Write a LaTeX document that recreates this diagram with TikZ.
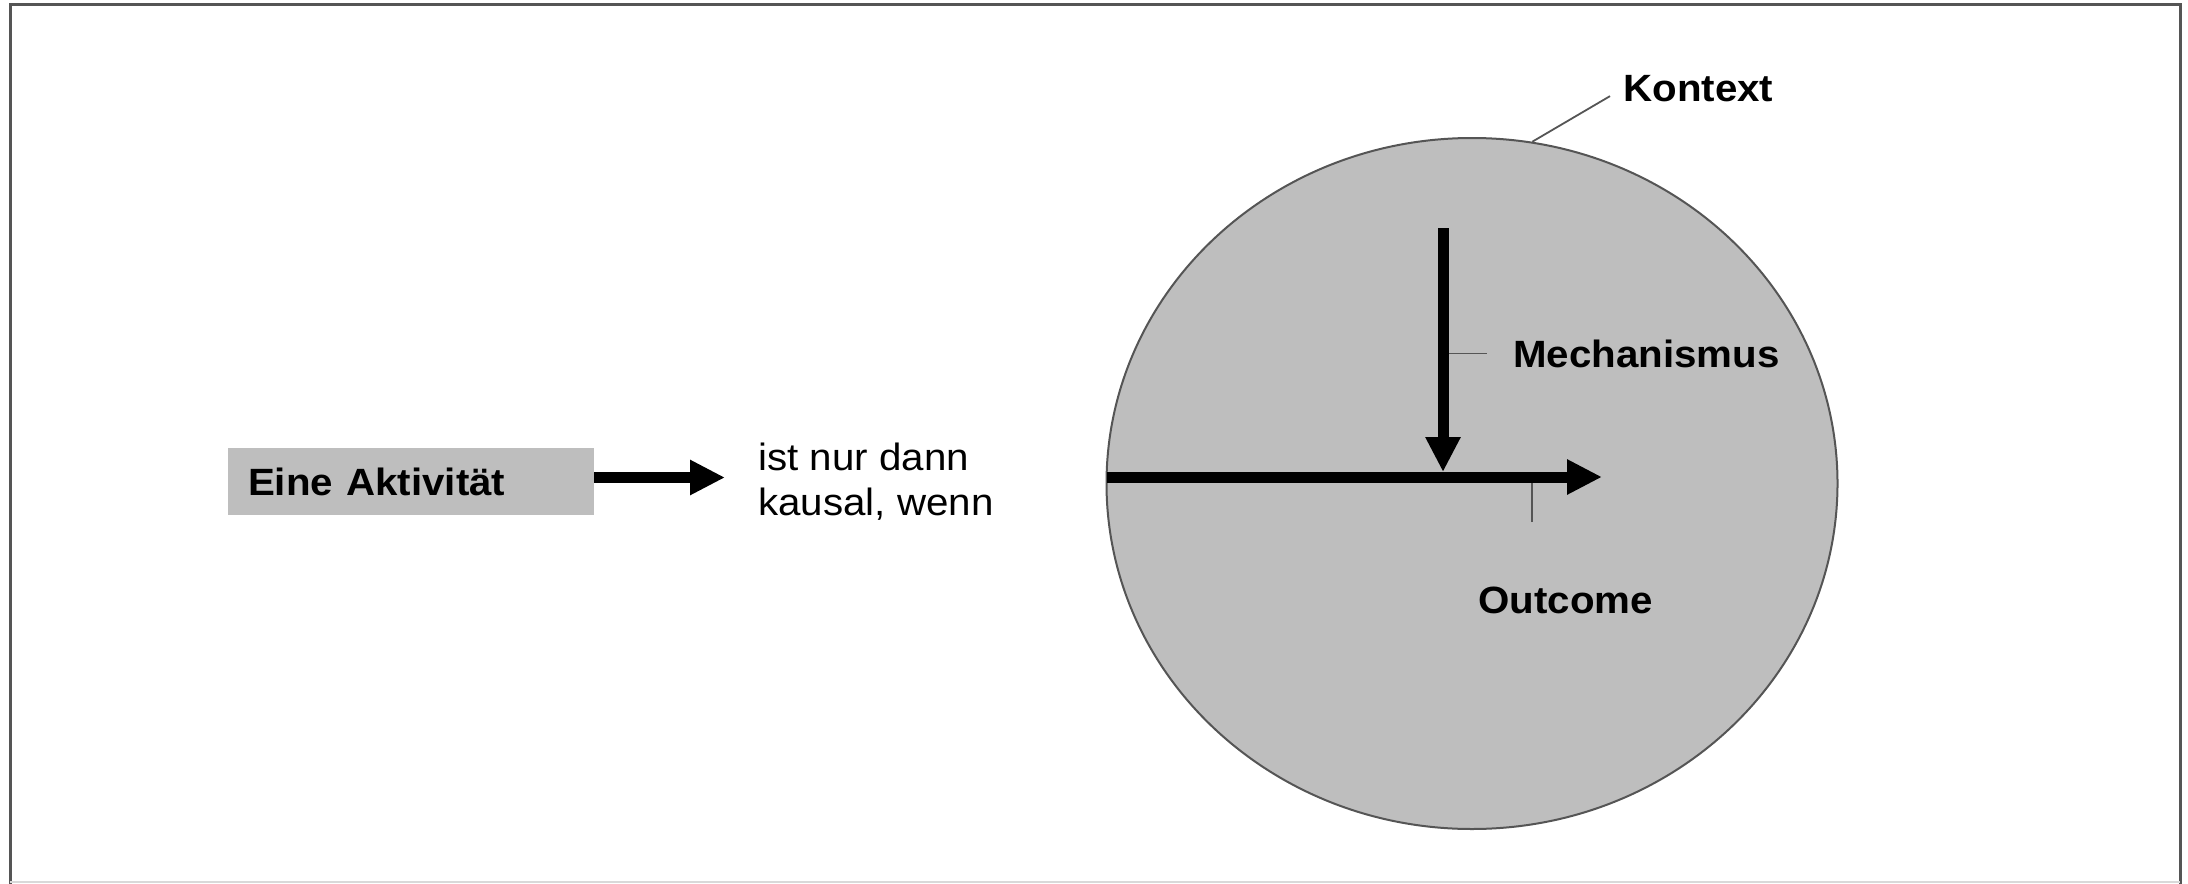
\documentclass[tikz,border=0pt]{standalone}
\usepackage{graphicx}
\usepackage{fontspec}
\setmainfont{Liberation Sans}
\usetikzlibrary{arrows.meta,shapes.geometric}
\definecolor{fillgray}{RGB}{190,190,190}
\definecolor{framegray}{RGB}{85,85,85}
\newcommand{\hstretch}[1]{\scalebox{1.06}[1]{#1}}
\begin{document}
\begin{tikzpicture}[x=0.5pt,y=-0.5pt,
  txt/.style={inner sep=0pt, font=\fontsize{19pt}{22.5pt}\selectfont},
  boldtxt/.style={inner sep=0pt, font=\fontsize{19pt}{22.5pt}\selectfont\bfseries},
  bigarrow/.style={line width=5.5pt, -{Triangle[length=17.5pt,width=16.5pt]}},
  leader/.style={line width=0.9pt, draw=framegray}]
\useasboundingbox (0,0) rectangle (2188,883);
\draw[line width=1.5pt, draw=framegray] (10,890) -- (10,5) -- (2180,5) -- (2180,890);
\draw[line width=0.6pt, draw=black!15] (10,882) -- (2180,882);

\node[ellipse, draw=framegray, line width=1pt, fill=fillgray,
      minimum width=365.5pt, minimum height=345.5pt, inner sep=0pt] (ctx) at (1472,483.5) {};

\node[boldtxt, fill=fillgray, minimum width=183pt, minimum height=33.5pt,
      text width=163pt, inner xsep=10pt, align=left] (akt) at (411,481.5) {\hstretch{Eine Aktivität}};

\node[txt, anchor=base west, align=left] (kausal) at (758,515)
  {\hstretch{ist nur dann}\\\hstretch{kausal, wenn}};

\coordinate (aktout) at ([yshift=2pt]akt.east);
\draw[bigarrow] (aktout) -- ([xshift=-16.5pt]kausal.west |- aktout);

\node[boldtxt, anchor=base west] (kontext) at (1623,102) {\hstretch{Kontext}};
\node[boldtxt, anchor=base west] (mech) at (1513,367) {\hstretch{Mechanismus}};
\node[boldtxt, anchor=base west] (outc) at (1478,613) {\hstretch{Outcome}};

\coordinate (hstart) at (1107,477);
\coordinate (htip) at (1602,477);
\coordinate (vtop) at (1443,228);
\coordinate (vtip) at (1443,472);
\coordinate (olead) at (1532,522);

\draw[leader] ([xshift=-6.5pt,yshift=-3.5pt]kontext.west) -- (ctx.80.4);
\draw[leader] (vtop |- mech.west) -- ([xshift=-13pt]mech.west);
\draw[leader] (olead) -- (olead |- htip);

\draw[bigarrow] (hstart) -- (htip);
\draw[bigarrow] (vtop) -- (vtip);
\end{tikzpicture}
\end{document}
